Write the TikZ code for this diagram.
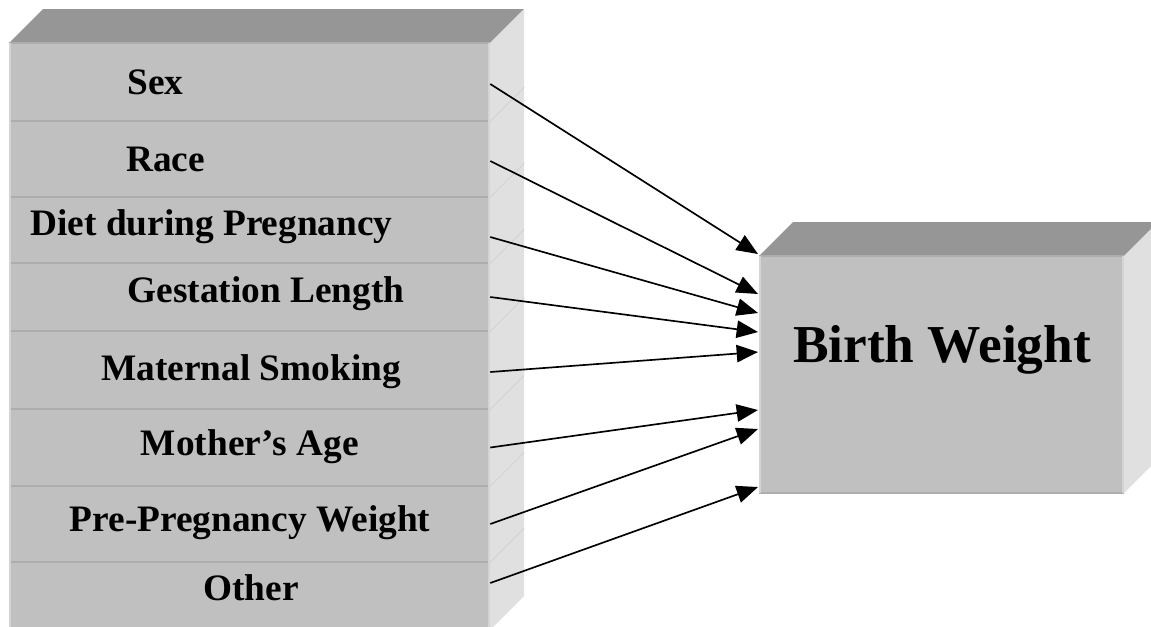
\documentclass[tikz,border=0pt]{standalone}
\usepackage{fontspec}
\setmainfont{Liberation Serif}[Ligatures=ResetAll]
\usetikzlibrary{arrows.meta, calc}

\definecolor{facegray}{HTML}{C0C0C0}
\definecolor{topgray}{HTML}{969696}
\definecolor{sidegray}{HTML}{E0E0E0}
\definecolor{edgegray}{HTML}{ADADAD}
\definecolor{lightedge}{HTML}{D4D4D4}
\definecolor{diaggray}{HTML}{CDCDCD}

\begin{document}
\begin{tikzpicture}[
  x=0.75pt, y=-0.75pt,
  row/.style={rectangle, fill=facegray, inner sep=0pt, minimum width=360.75pt},
  factor/.style={font=\fontsize{28}{30}\selectfont\bfseries, anchor=base, inner sep=0pt},
  target/.style={rectangle, fill=facegray, inner sep=0pt, minimum width=273.75pt, minimum height=177.75pt},
  targettext/.style={font=\fontsize{40}{44}\selectfont\bfseries, anchor=base, inner sep=0pt},
  sep/.style={draw=edgegray, line width=1.5pt},
  hilite/.style={draw=lightedge, line width=1.5pt},
  diag/.style={draw=diaggray, line width=0.4pt},
  arrow/.style={-{Triangle[length=16pt, width=13pt]}, line width=1.25pt}
]
\useasboundingbox (0,0) rectangle (1151,626);

% Left stack
\fill[topgray] (9,43) -- (43,9) -- (524,9) -- (490,43) -- cycle;
\fill[sidegray] (490,43) -- (524,9) -- (524,596) -- (490,630) -- cycle;
\node[row, minimum height=58.5pt] (sex) at (249.5,82) {};
\node[row, minimum height=57pt] (race) at (249.5,159) {};
\node[row, minimum height=49.5pt] (diet) at (249.5,230) {};
\node[row, minimum height=51pt] (gestation) at (249.5,297) {};
\node[row, minimum height=58.5pt] (smoking) at (249.5,370) {};
\node[row, minimum height=57.75pt] (age) at (249.5,447.5) {};
\node[row, minimum height=57pt] (weight) at (249.5,524) {};
\node[row, minimum height=51pt] (other) at (249.5,596) {};

% Row edges
\draw[sep] (sex.north west) -- (sex.north east);
\foreach \r in {sex, race, diet, gestation, smoking, age, weight} {
  \draw[sep] (\r.south west) -- (\r.south east);
  \draw[diag] (\r.south east) -- ++(34,-34);
}
\draw[hilite] ($(sex.north west)+(1,0)$) -- ($(other.south west)+(1,0)$);
\draw[hilite] ($(sex.north east)+(-1,0)$) -- ($(other.south east)+(-1,0)$);

% Factor labels
\node[factor] (lsex) at (155.5,94) {Sex};
\node[factor] (lrace) at (165.5,171) {Race};
\node[factor] (ldiet) at (211.5,235) {Diet during Pregnancy};
\node[factor] (lgest) at (266,302) {Gestation Length};
\node[factor] (lsmoke) at (251,380) {Maternal Smoking};
\node[factor] (lage) at (250,455) {Mother's Age};
\node[factor] (lweight) at (250,531) {Pre-Pregnancy Weight};
\node[factor] (lother) at (251,600) {Other};

% Target box
\fill[topgray] (759,256) -- (793,222) -- (1158,222) -- (1124,256) -- cycle;
\fill[sidegray] (1124,256) -- (1158,222) -- (1158,459) -- (1124,493) -- cycle;
\node[target] (bw) at (941.5,374.5) {};
\draw[sep] (bw.north west) -- (bw.north east);
\draw[sep] (bw.south west) -- (bw.south east);
\draw[hilite] ($(bw.north west)+(1,0)$) -- ($(bw.south west)+(1,0)$);
\draw[hilite] ($(bw.north east)+(-1,0)$) -- ($(bw.south east)+(-1,0)$);
\node[targettext] (lbw) at (942,362) {Birth Weight};

% Arrow ends
\coordinate (in1) at (758,254);
\coordinate (in2) at (758,294);
\coordinate (in3) at (758,313);
\coordinate (in4) at (758,332);
\coordinate (in5) at (758,352);
\coordinate (in6) at (758,410);
\coordinate (in7) at (758,429);
\coordinate (in8) at (758,487);

% Connections
\draw[arrow] ([yshift=-1.5pt]sex.east) -- (in1);
\draw[arrow] ([yshift=-1.5pt]race.east) -- (in2);
\draw[arrow] ([yshift=-5.25pt]diet.east) -- (in3);
\draw[arrow] (gestation.east) -- (in4);
\draw[arrow] ([yshift=-1.5pt]smoking.east) -- (in5);
\draw[arrow] (age.east) -- (in6);
\draw[arrow] (weight.east) -- (in7);
\draw[arrow] ([yshift=9.75pt]other.east) -- (in8);

\end{tikzpicture}
\end{document}
